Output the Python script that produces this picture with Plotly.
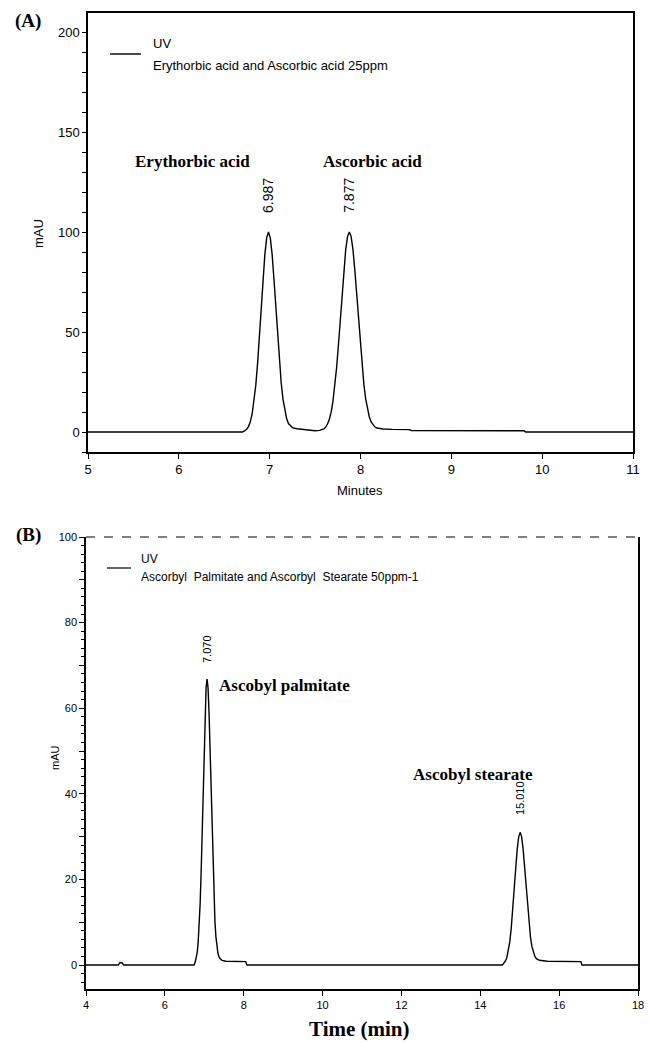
import plotly.graph_objects as go

W, H = 649, 1043

# ---------------- Panel A data (Erythorbic / Ascorbic acid) ----------------
a_time = [5.00, 6.70, 6.727, 6.747, 6.767, 6.787, 6.807, 6.827, 6.847, 6.867, 6.887, 6.907,
          6.927, 6.947, 6.967, 6.987, 7.007, 7.027, 7.047, 7.067, 7.087, 7.107, 7.127, 7.147,
          7.167, 7.187, 7.207, 7.227, 7.25, 7.30, 7.35, 7.40, 7.45, 7.50, 7.55, 7.597, 7.617,
          7.637, 7.657, 7.677, 7.697, 7.717, 7.737, 7.757, 7.777, 7.797, 7.817, 7.837, 7.857,
          7.877, 7.897, 7.917, 7.937, 7.957, 7.977, 7.997, 8.017, 8.037, 8.057, 8.077, 8.097,
          8.117, 8.137, 8.157, 8.18, 8.25, 8.35, 8.54, 8.56, 9.80, 9.82, 11.00]
a_mau = [0.0, 0.0, 0.7, 1.4, 2.7, 5.1, 9.0, 14.9, 23.3, 34.3, 47.5, 62.1,
         76.5, 88.8, 97.1, 100.0, 97.1, 88.8, 76.5, 62.1, 47.5, 35.0, 24.5, 16.3,
         10.4, 6.6, 4.2, 3.0, 2.2, 1.6, 1.3, 1.2, 0.7, 0.6, 0.8, 1.5, 2.5,
         4.0, 6.4, 9.9, 15.4, 22.8, 32.2, 43.5, 56.1, 69.1, 81.2, 91.2, 97.7,
         100.0, 97.7, 91.2, 81.2, 69.1, 56.6, 44.2, 33.0, 23.8, 16.6, 11.2, 7.5,
         5.0, 3.5, 2.6, 2.0, 1.5, 1.3, 1.2, 0.7, 0.6, 0.0, 0.0]
a_peak_times = [6.987, 7.877]
a_peak_labels = ["6.987", "7.877"]
a_names = ["Erythorbic acid", "Ascorbic acid"]
a_name_x = [6.145, 8.13]
a_xticks = [5, 6, 7, 8, 9, 10, 11]
a_yticks = [0, 50, 100, 150, 200]

# ---------------- Panel B data (Ascorbyl palmitate / stearate) ----------------
b_time = [4.00, 4.82, 4.86, 4.92, 4.95, 6.74, 6.77, 6.795, 6.82, 6.845, 6.87, 6.895, 6.92,
          6.945, 6.97, 6.995, 7.02, 7.045, 7.07, 7.095, 7.12, 7.145, 7.17, 7.195, 7.22,
          7.245, 7.27, 7.295, 7.32, 7.345, 7.37, 7.40, 7.45, 7.55, 8.05, 8.08, 14.56,
          14.598, 14.635, 14.673, 14.710, 14.748, 14.785, 14.823, 14.860, 14.898, 14.935,
          14.973, 15.010, 15.048, 15.085, 15.123, 15.160, 15.198, 15.235, 15.273, 15.310,
          15.348, 15.385, 15.423, 15.50, 15.70, 16.55, 16.58, 18.00]
b_mau = [0.0, 0.0, 0.6, 0.5, 0.0, 0.0, 0.7, 1.5, 2.9, 5.3, 9.0, 14.4, 21.7,
         30.6, 40.5, 50.4, 58.9, 64.7, 66.8, 64.8, 59.1, 50.8, 41.0, 31.3, 22.6,
         15.5, 10.2, 6.6, 4.2, 2.8, 2.0, 1.5, 1.1, 0.9, 0.8, 0.0, 0.0,
         0.4, 0.9, 1.7, 3.2, 5.4, 8.6, 12.7, 17.5, 22.5, 26.9,
         29.9, 31.0, 30.0, 27.2, 23.0, 18.2, 13.6, 9.6, 6.5, 4.3,
         2.8, 2.0, 1.5, 1.1, 0.9, 0.8, 0.0, 0.0]
b_peak_times = [7.070, 15.010]
b_peak_labels = ["7.070", "15.010"]
b_peak_label_y = [70.1, 34.6]
b_names = ["Ascobyl palmitate", "Ascobyl stearate"]
b_name_x = [7.31, 12.24]
b_name_y = [65.4, 44.4]
b_xticks = [4, 6, 8, 10, 12, 14, 16, 18]
b_yticks = [0, 10, 20, 30, 40, 50, 60, 70, 80, 90, 100]
b_yticktext = ["0", "", "20", "", "40", "", "60", "", "80", "", "100"]

SANS = "Liberation Sans"
SERIF = "Liberation Serif"


def pxx(p):
    return p / W


def pxy(p):
    return 1 - p / H


fig = go.Figure()
fig.add_trace(go.Scatter(x=a_time, y=a_mau, mode="lines", xaxis="x", yaxis="y",
                         line=dict(color="black", width=1.4), showlegend=False,
                         hoverinfo="skip"))
fig.add_trace(go.Scatter(x=b_time, y=b_mau, mode="lines", xaxis="x2", yaxis="y2",
                         line=dict(color="black", width=1.4), showlegend=False,
                         hoverinfo="skip"))

common = dict(showline=True, linecolor="black", linewidth=1.5, ticks="outside",
              tickcolor="black", tickwidth=1, showgrid=False, zeroline=False,
              automargin=False)

fig.update_layout(
    template="none",
    width=W, height=H, margin=dict(l=0, r=0, t=0, b=0, pad=0),
    plot_bgcolor="white", paper_bgcolor="white",
    xaxis=dict(domain=[pxx(88), pxx(633)], range=[5, 11], anchor="y",
               tickvals=a_xticks, ticklen=5, mirror=True,
               tickfont=dict(family=SANS, size=13, color="black"), **common),
    yaxis=dict(domain=[pxy(452), pxy(13)], range=[-10, 209.5], anchor="x",
               tickvals=a_yticks, ticklen=4, mirror=True,
               minor=dict(dtick=10, tick0=0, ticklen=4, ticks="outside", tickcolor="black"),
               tickfont=dict(family=SANS, size=13, color="black"), **common),
    xaxis2=dict(domain=[pxx(86), pxx(638)], range=[4, 18], anchor="y2",
                tickvals=b_xticks, ticklen=5, mirror=False,
                tickfont=dict(family=SANS, size=11, color="black"), **common),
    yaxis2=dict(domain=[pxy(989), pxy(537)], range=[-5.6, 100], anchor="x2",
                tickvals=b_yticks, ticktext=b_yticktext, ticklen=5, mirror=True,
                minor=dict(dtick=2, tick0=0, ticklen=3, ticks="outside", tickcolor="black"),
                tickfont=dict(family=SANS, size=11, color="black"), **common),
)

# dashed top border of panel B
fig.add_shape(type="line", xref="x2 domain", yref="y2 domain", x0=0, x1=1, y0=1, y1=1,
              line=dict(color="black", width=1, dash="dash"))


def pann(text, x, y, size, family=SANS, xanchor="center", angle=0):
    return dict(text=text, x=pxx(x), y=pxy(y), xref="paper", yref="paper",
                xanchor=xanchor, yanchor="middle", textangle=angle, showarrow=False,
                font=dict(family=family, size=size, color="black"))


ann = []
# panel letters
ann.append(pann("<b>(A)</b>", 28, 21, 19, SERIF))
ann.append(pann("<b>(B)</b>", 28, 535, 19, SERIF))

# legends (drawn)
fig.add_shape(type="line", xref="paper", yref="paper", x0=pxx(110), x1=pxx(141),
              y0=pxy(54), y1=pxy(54), line=dict(color="black", width=1.4))
ann.append(pann("UV", 151, 44, 13, xanchor="left"))
ann.append(pann("Erythorbic acid and Ascorbic acid 25ppm", 151, 65, 13, xanchor="left"))
fig.add_shape(type="line", xref="paper", yref="paper", x0=pxx(107), x1=pxx(131),
              y0=pxy(568), y1=pxy(568), line=dict(color="black", width=1.2))
ann.append(pann("UV", 139, 559, 12, xanchor="left"))
ann.append(pann("Ascorbyl  Palmitate and Ascorbyl  Stearate 50ppm-1", 139, 577, 12,
                xanchor="left"))

# axis titles
ann.append(pann("mAU", 38, 234, 13, angle=-90))
ann.append(pann("Minutes", 360, 490, 13))
ann.append(pann("mAU", 55, 758, 11, angle=-90))
ann.append(pann("<b>Time (min)</b>", 360, 1029, 21, SERIF))

# peak labels panel A
for t, lab in zip(a_peak_times, a_peak_labels):
    ann.append(dict(text=lab, x=t, y=108.5, xref="x", yref="y", xanchor="center",
                    yanchor="bottom", textangle=-90, showarrow=False,
                    font=dict(family=SANS, size=14, color="black")))
for xn, nm in zip(a_name_x, a_names):
    ann.append(dict(text="<b>%s</b>" % nm, x=xn, y=135, xref="x", yref="y",
                    xanchor="center", yanchor="middle", showarrow=False,
                    font=dict(family=SERIF, size=17, color="black")))

# peak labels panel B
for t, yl, lab in zip(b_peak_times, b_peak_label_y, b_peak_labels):
    ann.append(dict(text=lab, x=t, y=yl, xref="x2", yref="y2", xanchor="center",
                    yanchor="bottom", textangle=-90, showarrow=False,
                    font=dict(family=SANS, size=11, color="black")))
for xn, yn, nm in zip(b_name_x, b_name_y, b_names):
    ann.append(dict(text="<b>%s</b>" % nm, x=xn, y=yn, xref="x2", yref="y2",
                    xanchor="left", yanchor="middle", showarrow=False,
                    font=dict(family=SERIF, size=17, color="black")))

fig.update_layout(annotations=ann)
fig.write_html("out.html", config={"displayModeBar": False},
               post_script="document.body.style.margin='0';")
